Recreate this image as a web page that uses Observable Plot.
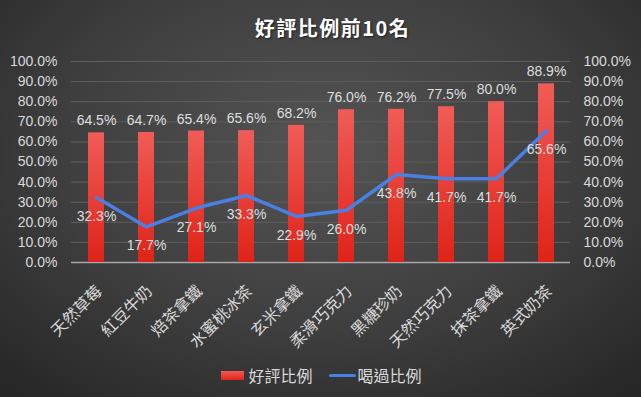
<!DOCTYPE html>
<html><head><meta charset="utf-8">
<script src="https://cdn.jsdelivr.net/npm/d3@7"></script>
<script src="https://cdn.jsdelivr.net/npm/@observablehq/plot@0.6"></script>
<style>
html,body{margin:0;padding:0;background:#2a2a2a;}
body{width:641px;height:397px;overflow:hidden;}
#chart{position:relative;width:641px;height:397px;overflow:hidden;
  background:radial-gradient(ellipse 72% 80% at 50% 38%, #545454 0%, #3f3f3f 55%, #272727 100%);
  font-family:"Liberation Sans",Arial,"Noto Sans CJK TC",sans-serif;}
#title{position:absolute;top:14px;left:12px;width:641px;text-align:center;color:#ffffff;font-size:20px;font-weight:bold;letter-spacing:1.5px;
  font-family:"Noto Sans CJK TC","Liberation Sans",sans-serif;text-shadow:1px 1px 2px rgba(0,0,0,0.6);line-height:28px;}
#plot{position:absolute;top:40px;left:0;}
#legend{position:absolute;top:364px;left:0;width:641px;display:flex;justify-content:center;align-items:center;
  color:#d9d9d9;font-size:16px;font-family:"Noto Sans CJK TC",sans-serif;line-height:22px;padding-left:2px;box-sizing:border-box;}
.sw-bar{display:inline-block;width:23px;height:9px;background:linear-gradient(#f05a55,#e0231a);margin-right:4px;}
.sw-line{display:inline-block;width:27px;height:3px;background:#4a7fe3;border-radius:2px;margin-right:2px;margin-left:16px;}
</style></head>
<body>
<div id="chart">
  <div id="title">好評比例前10名</div>
  <div id="plot"></div>
  <div id="legend"><span class="sw-bar"></span><span>好評比例</span><span class="sw-line"></span><span>喝過比例</span></div>
</div>
<script>
const categories = ["天然草莓","紅豆牛奶","焙茶拿鐵","水蜜桃冰茶","玄米拿鐵","柔滑巧克力","黑糖珍奶","天然巧克力","抹茶拿鐵","英式奶茶"];
const goodRate = [64.5, 64.7, 65.4, 65.6, 68.2, 76.0, 76.2, 77.5, 80.0, 88.9];
const triedRate = [32.3, 17.7, 27.1, 33.3, 22.9, 26.0, 43.8, 41.7, 41.7, 65.6];
const yTicks = [0, 10, 20, 30, 40, 50, 60, 70, 80, 90, 100];

const data = categories.map((c, i) => ({name: c, good: goodRate[i], tried: triedRate[i]}));
const fmt = v => v.toFixed(1) + "%";

const defsMark = () => {
  const d = d3.create("svg:defs");
  const g = d.append("linearGradient").attr("id", "barGrad").attr("x1", 0).attr("y1", 0).attr("x2", 0).attr("y2", 1);
  g.append("stop").attr("offset", "0%").attr("stop-color", "#f05c57");
  g.append("stop").attr("offset", "100%").attr("stop-color", "#df2318");
  return d.node();
};

const plot = Plot.plot({
  width: 641, height: 310,
  marginLeft: 71, marginRight: 71, marginTop: 21, marginBottom: 88,
  style: {background: "transparent", color: "#d9d9d9", fontFamily: "'Liberation Sans', Arial, sans-serif", fontSize: "14px", overflow: "visible"},
  x: {domain: categories, paddingInner: 0.68, paddingOuter: 0.33, label: null},
  y: {domain: [0, 100], label: null},
  marks: [
    defsMark,
    Plot.gridY(yTicks.slice(1), {stroke: "#5f5f5f", strokeOpacity: 1, strokeWidth: 1}),
    Plot.ruleY([0], {stroke: "#a8a8a8", strokeWidth: 1.5}),
    Plot.barY(data, {x: "name", y: "good", fill: "url(#barGrad)"}),
    Plot.line(data, {x: "name", y: "tried", stroke: "#4a7fe3", strokeWidth: 3.5, strokeLinejoin: "round", strokeLinecap: "round"}),
    Plot.text(data, {x: "name", y: "good", text: d => fmt(d.good), dy: -12, fill: "#dedede", fontSize: 14}),
    Plot.text(data, {x: "name", y: "tried", text: d => fmt(d.tried), dy: 19, fill: "#dedede", fontSize: 14}),
    Plot.axisY(yTicks, {anchor: "left", tickSize: 0, tickPadding: 14, tickFormat: fmt, fontSize: 14, fill: "#d9d9d9"}),
    Plot.axisY(yTicks, {anchor: "right", tickSize: 0, tickPadding: 13, tickFormat: fmt, fontSize: 14, fill: "#d9d9d9"}),
    Plot.axisX({tickRotate: -45, tickSize: 0, tickPadding: 26, dx: 3, fontSize: 16, fontFamily: "'Noto Sans CJK TC', sans-serif", fill: "#d9d9d9", label: null})
  ]
});
document.getElementById("plot").appendChild(plot);
</script>
</body></html>
